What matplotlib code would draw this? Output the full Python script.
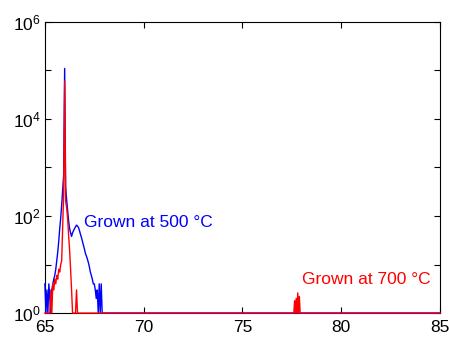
import matplotlib
matplotlib.use("Agg")
import matplotlib.pyplot as plt
from matplotlib.ticker import FixedLocator, FuncFormatter

plt.rcParams['font.family'] = ['Liberation Sans', 'DejaVu Sans']
plt.rcParams['mathtext.fontset'] = 'custom'
plt.rcParams['mathtext.rm'] = 'Liberation Sans'
plt.rcParams['mathtext.it'] = 'Liberation Sans:italic'
plt.rcParams['mathtext.bf'] = 'Liberation Sans:bold'

# Blue series: grown at 500 °C
blue_x = [65.00, 65.05, 65.10, 65.15, 65.20, 65.25, 65.30, 65.35, 65.40, 65.45,
          65.50, 65.55, 65.60, 65.65, 65.70, 65.75, 65.80, 65.85, 65.90, 65.95,
          66.00, 66.05, 66.10, 66.15, 66.20, 66.25, 66.30, 66.35, 66.40, 66.45,
          66.50, 66.55, 66.60, 66.65, 66.70, 66.75, 66.80, 66.85, 66.90, 66.95,
          67.00, 67.05, 67.10, 67.15, 67.20, 67.25, 67.30, 67.35, 67.40, 67.45,
          67.50, 67.55, 67.60, 67.65, 67.70, 67.75, 67.80, 67.85, 67.90, 67.95,
          68.00, 85.00]
blue_y = [4, 1, 3, 1, 4, 2, 1, 3, 4, 5,
          6, 8, 12, 18, 30, 55, 90, 170, 350, 700,
          110000, 400, 220, 130, 80, 55, 45, 38, 45, 50,
          55, 60, 65, 62, 58, 50, 42, 36, 30, 25,
          21, 17, 15, 13, 11, 9, 7, 6, 5, 4,
          4, 3, 2, 3, 1, 4, 1, 4, 1, 1,
          1, 1]

# Red series: grown at 700 °C
red_x = [65.00, 65.20, 65.25, 65.30, 65.35, 65.40, 65.45, 65.50, 65.55, 65.60,
         65.65, 65.70, 65.75, 65.80, 65.85, 65.90, 65.95, 66.00, 66.05, 66.10,
         66.15, 66.20, 66.25, 66.30, 66.35, 66.40, 66.55, 66.60, 66.65,
         77.60, 77.64, 77.68, 77.72, 77.76, 77.80, 77.84, 77.88, 77.92, 85.00]
red_y = [1, 1, 1, 3, 1, 4, 3, 5, 4, 6,
         5, 8, 7, 10, 12, 60, 300, 60000, 200, 150,
         90, 40, 20, 8, 3, 1, 1, 3, 1,
         1, 1.8, 1, 2.0, 1, 2.6, 1, 2.2, 1, 1]

x_ticks = [65, 70, 75, 80, 85]
y_ticks = [1, 10, 100, 1000, 10000, 100000, 1000000]
y_labels = {1: 0, 100: 2, 10000: 4, 1000000: 6}

fig = plt.figure(figsize=(4.49, 3.37), dpi=100)
ax = fig.add_axes([0.1, 0.071, 0.88, 0.864])
ax.plot(blue_x, blue_y, color='#0000ff', lw=1.0, zorder=3, clip_on=False)
ax.plot(red_x, red_y, color='#ff0000', lw=1.0, zorder=3, clip_on=False)
ax.set_yscale('log')
ax.set_xlim(65, 85)
ax.set_ylim(1, 1e6)
ax.set_xticks(x_ticks)
ax.yaxis.set_major_locator(FixedLocator(y_ticks))
ax.yaxis.set_minor_locator(FixedLocator([]))
ax.yaxis.set_major_formatter(FuncFormatter(
    lambda v, p: (r'$\mathregular{10^{%d}}$' % y_labels[int(round(v))]) if int(round(v)) in y_labels else ''))
ax.tick_params(direction='in', length=4, width=0.8, top=True, right=True,
               labelsize=12.5)
ax.tick_params(axis='x', pad=5)
ax.tick_params(axis='y', pad=3)
for s in ax.spines.values():
    s.set_linewidth(0.8)

ax.text(66.97, 75, 'Grown at 500 °C', color='#0000ff', fontsize=12.5, va='center', ha='left')
ax.text(78.0, 5, 'Grown at 700 °C', color='#ff0000', fontsize=12.5, va='center', ha='left')

fig.savefig('out.png', dpi=100)
